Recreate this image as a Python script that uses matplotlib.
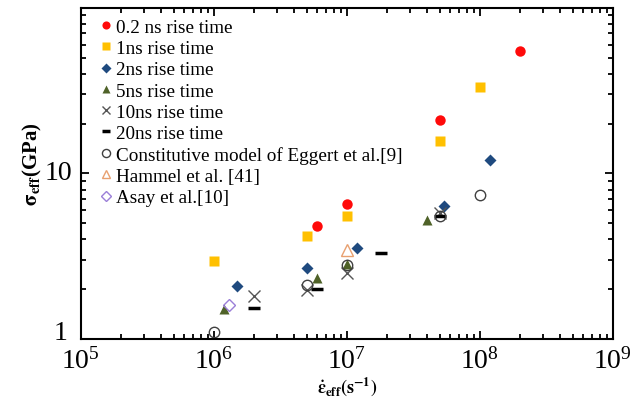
import matplotlib
matplotlib.use('Agg')
import matplotlib.pyplot as plt
import matplotlib.transforms as mtransforms
from matplotlib.ticker import LogLocator, NullFormatter

plt.rcParams['font.family'] = 'Liberation Serif'
plt.rcParams['mathtext.fontset'] = 'stix'

# strain rate (1/s) and effective stress (GPa) for each rise time / source
rate_02ns = [6e6, 1e7, 5e7, 2e8]
sig_02ns = [4.8, 6.5, 21, 55]

rate_1ns = [1e6, 5e6, 1e7, 5e7, 1e8]
sig_1ns = [2.95, 4.2, 5.5, 15.7, 33.5]

rate_2ns = [1.5e6, 5e6, 1.2e7, 5.4e7, 1.2e8]
sig_2ns = [2.1, 2.7, 3.55, 6.4, 12.0]

rate_5ns = [1.2e6, 6e6, 1e7, 4e7]
sig_5ns = [1.52, 2.33, 2.85, 5.25]

rate_10ns = [2e6, 5e6, 1e7, 5e7]
sig_10ns = [1.83, 1.98, 2.5, 5.8]

rate_20ns = [2e6, 6e6, 1.8e7, 5e7]
sig_20ns = [1.55, 2.0, 3.3, 5.5]

rate_eggert = [1e6, 5e6, 1e7, 5e7, 1e8]
sig_eggert = [1.1, 2.12, 2.8, 5.5, 7.4]

rate_hammel = [1e7]
sig_hammel = [3.45]

rate_asay = [1.3e6]
sig_asay = [1.6]

fig = plt.figure(figsize=(6.37, 4.02), dpi=100)
ax = fig.add_axes([0.127, 0.154, 0.835, 0.824])

ax.plot(rate_02ns, sig_02ns, 'o', color='#ff0a0a', ms=7.5, mec='none', label='0.2 ns rise time')
ax.plot(rate_1ns, sig_1ns, 's', color='#ffc000', ms=7, mec='none', label='1ns rise time')
ax.plot(rate_2ns, sig_2ns, 'D', color='#1f4a7f', ms=6.5, mec='none', label='2ns rise time')
ax.plot(rate_5ns, sig_5ns, '^', color='#4f6228', ms=7.5, mec='none', label='5ns rise time')
ax.plot(rate_10ns, sig_10ns, 'x', color='#555555', ms=8, mew=1.0, label='10ns rise time')
ax.plot(rate_20ns, sig_20ns, '_', color='black', ms=8, mew=2.5, label='20ns rise time')
ax.plot(rate_eggert, sig_eggert, 'o', mfc='none', mec='#404040', ms=7.5, mew=1.0,
        label='Constitutive model of Eggert et al.[9]')
ax.plot(rate_hammel, sig_hammel, '^', mfc='none', mec='#e8a070', ms=8, mew=1.0,
        label='Hammel et al. [41]')
ax.plot(rate_asay, sig_asay, 'D', mfc='none', mec='#9b7fd8', ms=6, mew=1.0,
        label='Asay et al.[10]')

ax.set_xscale('log')
ax.set_yscale('log')
ax.set_xlim(1e5, 1e9)
ax.set_ylim(1, 100)

ax.xaxis.set_major_locator(LogLocator(base=10, numticks=10))
ax.xaxis.set_minor_locator(LogLocator(base=10, subs=range(2, 10), numticks=10))
ax.xaxis.set_minor_formatter(NullFormatter())
ax.yaxis.set_minor_locator(LogLocator(base=10, subs=range(2, 10), numticks=10))
ax.yaxis.set_minor_formatter(NullFormatter())
ax.set_yticks([1, 10])
ax.set_yticklabels(['1', '10'])

ax.tick_params(which='both', direction='in', top=True, right=True, width=1.3)
ax.tick_params(which='major', length=6, labelsize=20, pad=6)
ax.tick_params(which='minor', length=3.5)
for sp in ax.spines.values():
    sp.set_linewidth(1.5)

# nudge the y labels up so "1" clears the 10^5 label
ylabels = ax.get_yticklabels()
ylabels[0].set_transform(ylabels[0].get_transform() +
                         mtransforms.ScaledTranslation(-4 / 72, 7 / 72, fig.dpi_scale_trans))
ylabels[1].set_transform(ylabels[1].get_transform() +
                         mtransforms.ScaledTranslation(0, 3 / 72, fig.dpi_scale_trans))

ax.set_xlabel(r'$\mathbf{\dot{\varepsilon}_{eff}(s^{-1})}$', fontsize=13, labelpad=0)
ax.set_ylabel(r'$\mathbf{\sigma_{eff}}$' + '(GPa)', fontsize=15, fontweight='bold')
ax.yaxis.set_label_coords(-0.07, 0.53)

ax.legend(loc='upper left', bbox_to_anchor=(0.036, 0.968), frameon=False, fontsize=13.8,
          handlelength=0.6, handletextpad=0.25, labelspacing=0.2, borderaxespad=0,
          borderpad=0, numpoints=1, markerscale=0.78)

fig.savefig('out.png', dpi=100)
